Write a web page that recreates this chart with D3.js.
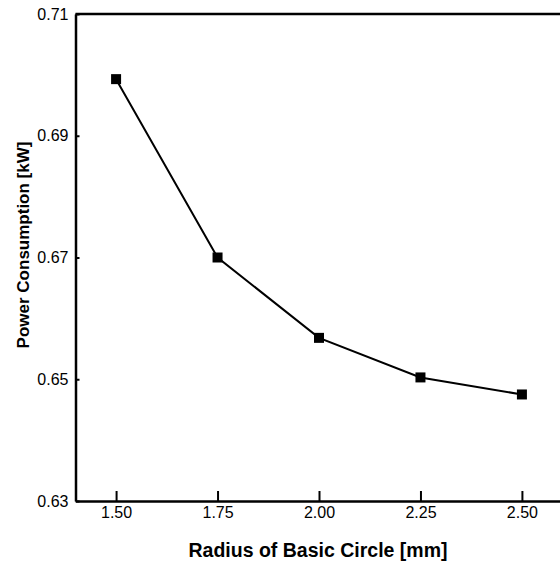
<!DOCTYPE html>
<html>
<head>
<meta charset="utf-8">
<script src="https://cdn.jsdelivr.net/npm/d3@7"></script>
<style>
  body { margin: 0; background: #fff; }
  svg { display: block; font-family: "Liberation Sans", Arial, sans-serif; }
</style>
</head>
<body>
<svg id="chart" width="560" height="569"></svg>
<script>
var radius = [1.50, 1.75, 2.00, 2.25, 2.50];
var power = [0.6993, 0.6700, 0.6568, 0.6503, 0.6475];
var xTicks = [1.50, 1.75, 2.00, 2.25, 2.50];
var yTicks = [0.63, 0.65, 0.67, 0.69, 0.71];

var svg = d3.select("#chart");
var plotL = 75.5, plotT = 14, plotB = 501, plotR = 562.5;

// x domain runs past the tick labels, right end is just off the page
var x = d3.scaleLinear().domain([1.40, 2.60]).range([plotL, plotR]);
var y = d3.scaleLinear().domain([0.63, 0.71]).range([plotB, plotT]);

var xAxis = d3.axisBottom(x).tickValues(xTicks).tickFormat(d3.format(".2f"))
  .tickSizeInner(-10).tickSizeOuter(0).tickPadding(6);
var yAxis = d3.axisLeft(y).tickValues(yTicks).tickFormat(d3.format(".2f"))
  .tickSizeInner(-4).tickSizeOuter(0).tickPadding(7);

var gx = svg.append("g").attr("transform", "translate(0," + plotB + ")").call(xAxis);
gx.select(".domain").attr("stroke-width", 2.5);
gx.selectAll(".tick line").attr("stroke-width", 2);
gx.selectAll("text").attr("font-size", 16).attr("fill", "#000")
  .attr("font-family", "Liberation Sans, Arial, sans-serif");

var gy = svg.append("g").attr("transform", "translate(" + plotL + ",0)").call(yAxis);
gy.select(".domain").attr("stroke-width", 2.5);
gy.selectAll(".tick line").attr("stroke-width", 2);
gy.selectAll("text").attr("font-size", 16).attr("fill", "#000")
  .attr("font-family", "Liberation Sans, Arial, sans-serif");

// top border
svg.append("line")
  .attr("x1", x(1.40)).attr("x2", x(2.60))
  .attr("y1", y(0.71)).attr("y2", y(0.71))
  .attr("stroke", "#000").attr("stroke-width", 2.5);

var line = d3.line().x(function(d, i){ return x(radius[i]); }).y(function(d){ return y(d); });
svg.append("path").datum(power)
  .attr("d", line).attr("fill", "none")
  .attr("stroke", "#000").attr("stroke-width", 2);

svg.selectAll("rect.pt").data(power).enter().append("rect")
  .attr("class", "pt")
  .attr("x", function(d, i){ return x(radius[i]) - 5; })
  .attr("y", function(d){ return y(d) - 5; })
  .attr("width", 10).attr("height", 10)
  .attr("fill", "#000");

svg.append("text")
  .attr("x", 318).attr("y", 557)
  .attr("text-anchor", "middle").attr("font-weight", "bold").attr("font-size", 19.5)
  .text("Radius of Basic Circle [mm]");

svg.append("text")
  .attr("transform", "translate(29,245) rotate(-90)")
  .attr("text-anchor", "middle").attr("font-weight", "bold").attr("font-size", 17)
  .text("Power Consumption [kW]");
</script>
</body>
</html>
